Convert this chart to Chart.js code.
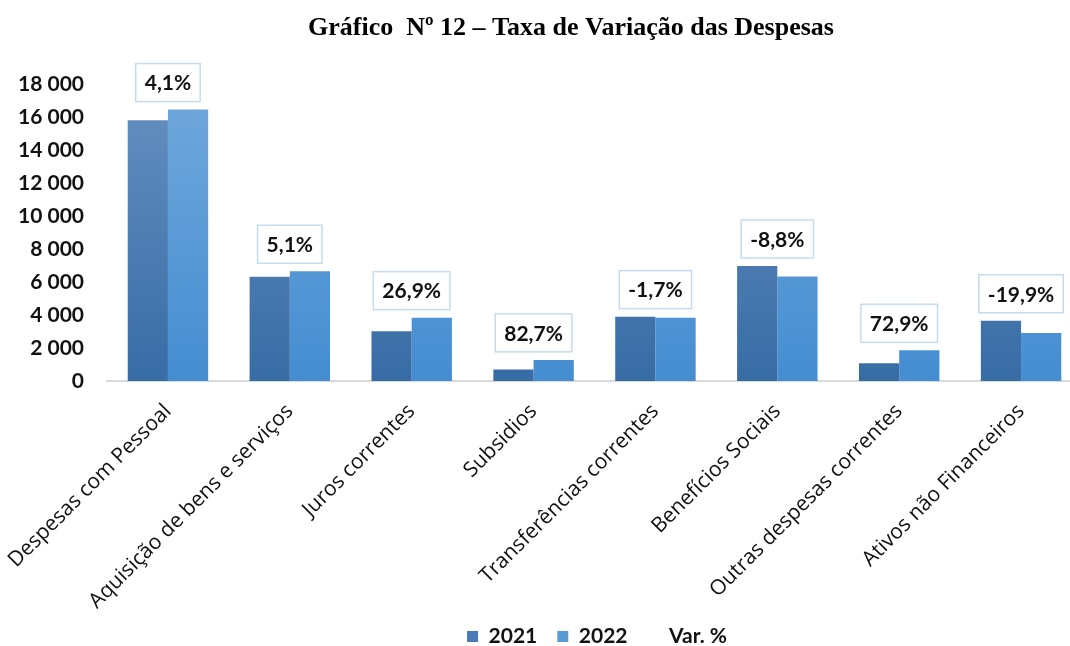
<!DOCTYPE html>
<html>
<head>
<meta charset="utf-8">
<script src="https://cdn.jsdelivr.net/npm/chart.js@4.4.1/dist/chart.umd.min.js"></script>
<style>
  html, body { margin: 0; padding: 0; background: #fff; overflow: hidden; }
  #wrap { position: relative; width: 1194px; height: 646px; }
</style>
</head>
<body>
<div id="wrap"><canvas id="c" width="1194" height="646"></canvas></div>
<script>
const categories = [
  "Despesas com Pessoal",
  "Aquisição de bens e serviços",
  "Juros correntes",
  "Subsidios",
  "Transferências correntes",
  "Benefícios Sociais",
  "Outras despesas correntes",
  "Ativos não Financeiros"
];
const values2021 = [15800, 6320, 3010, 700, 3900, 6970, 1070, 3650];
const values2022 = [16450, 6650, 3840, 1280, 3840, 6330, 1860, 2910];
const varPct = [4.1, 5.1, 26.9, 82.7, -1.7, -8.8, 72.9, -19.9];
const yTicks = [0, 2000, 4000, 6000, 8000, 10000, 12000, 14000, 16000, 18000];
const titleText = "Gráfico  Nº 12 – Taxa de Variação das Despesas";

const fmtThousands = v => {
  const s = Math.round(v).toString();
  return s.replace(/\B(?=(\d{3})+(?!\d))/g, " ");
};
const fmtPct = v => v.toFixed(1).replace(".", ",") + "%";

function grad(ctx, top, bottom, fallback) {
  const chart = ctx.chart;
  const area = chart.chartArea;
  if (!area) return fallback;
  const g = chart.ctx.createLinearGradient(0, area.top, 0, area.bottom);
  g.addColorStop(0, top);
  g.addColorStop(1, bottom);
  return g;
}

const titlePlugin = {
  id: "customTitle",
  afterLayout(chart) {
    const lg = chart.legend;
    if (lg) {
      lg.left = 112; lg.right = 1082;
      lg.top += 11; lg.bottom += 11;
    }
    if (chart.scales.x) chart.scales.x.bottom = 646;
  },
  afterDraw(chart) {
    const c = chart.ctx;
    c.save();
    c.font = "bold 26px 'Liberation Serif', serif";
    c.fillStyle = "#000";
    c.textAlign = "center";
    c.textBaseline = "middle";
    c.fillText(titleText, 571, 28);
    c.restore();
  }
};

const varBoxPlugin = {
  id: "varBoxes",
  afterDatasetsDraw(chart) {
    const m0 = chart.getDatasetMeta(0).data;
    const m1 = chart.getDatasetMeta(1).data;
    const pctData = chart.data.datasets[2].data;
    const c = chart.ctx;
    c.save();
    c.font = "bold 21px Lato, sans-serif";
    c.textAlign = "center";
    c.textBaseline = "middle";
    for (let i = 0; i < pctData.length; i++) {
      const a = m0[i], b = m1[i];
      const cx = (a.x + b.x) / 2;
      const top = Math.min(a.y, b.y);
      const txt = fmtPct(pctData[i]);
      const w = c.measureText(txt).width + 18;
      const h = 38;
      const bottom = top - 8;
      c.fillStyle = "#fff";
      c.fillRect(cx - w / 2, bottom - h, w, h);
      c.strokeStyle = "#c5dcf0";
      c.lineWidth = 1.5;
      c.strokeRect(cx - w / 2, bottom - h, w, h);
      c.fillStyle = "#111";
      c.fillText(txt, cx, bottom - h / 2 + 1);
    }
    c.restore();
  }
};

new Chart(document.getElementById("c"), {
  data: {
    labels: categories,
    datasets: [
      {
        type: "bar",
        label: "2021",
        data: values2021,
        backgroundColor: ctx => grad(ctx, "#6690c1", "#386ca5", "#4a7ab5"),
        borderWidth: 0,
        categoryPercentage: 0.66,
        barPercentage: 1.0
      },
      {
        type: "bar",
        label: "2022",
        data: values2022,
        backgroundColor: ctx => grad(ctx, "#72a8dc", "#448dd1", "#5b9bd5"),
        borderWidth: 0,
        categoryPercentage: 0.66,
        barPercentage: 1.0
      },
      {
        type: "line",
        label: "Var. %",
        data: varPct,
        yAxisID: "y2",
        showLine: false,
        pointRadius: 0,
        pointHoverRadius: 0,
        borderWidth: 0,
        backgroundColor: "rgba(0,0,0,0)",
        borderColor: "rgba(0,0,0,0)"
      }
    ]
  },
  options: {
    responsive: false,
    animation: false,
    layout: { padding: { top: 84, right: 112, left: 0, bottom: 0 } },
    plugins: {
      title: { display: false },
      tooltip: { enabled: false },
      legend: {
        display: true,
        position: "bottom",
        labels: {
          font: { family: "Lato, sans-serif", size: 21, weight: "bold" },
          color: "#111",
          boxWidth: 11,
          boxHeight: 11,
          padding: 20,
          generateLabels(chart) {
            const solid = ["#4a7ab5", "#5b9bd5", "rgba(0,0,0,0)"];
            return chart.data.datasets.map((ds, i) => ({
              text: ds.label,
              fillStyle: solid[i],
              strokeStyle: "rgba(0,0,0,0)",
              lineWidth: 0,
              hidden: false,
              datasetIndex: i,
              fontColor: "#111"
            }));
          }
        }
      }
    },
    scales: {
      x: {
        grid: { display: false, drawTicks: false },
        border: { display: true, color: "#d9d9d9", width: 2 },
        ticks: {
          minRotation: 45,
          maxRotation: 45,
          autoSkip: false,
          padding: 18,
          color: "#111",
          font: { family: "'Open Sans', sans-serif", size: 21 }
        },
        afterFit(scale) {
          scale.height = 214;
          scale.paddingLeft = 0;
          scale.paddingRight = 0;
        }
      },
      y: {
        min: 0,
        max: 18000,
        afterBuildTicks(scale) { scale.ticks = yTicks.map(v => ({ value: v })); },
        grid: { display: false, drawTicks: false },
        border: { display: false },
        ticks: {
          padding: 23,
          color: "#111",
          font: { family: "Lato, sans-serif", size: 21, weight: "bold" },
          callback: v => fmtThousands(v)
        },
        afterFit(scale) { scale.width = 107; }
      },
      y2: {
        display: false,
        min: -100,
        max: 100
      }
    }
  },
  plugins: [titlePlugin, varBoxPlugin]
});
</script>
</body>
</html>
